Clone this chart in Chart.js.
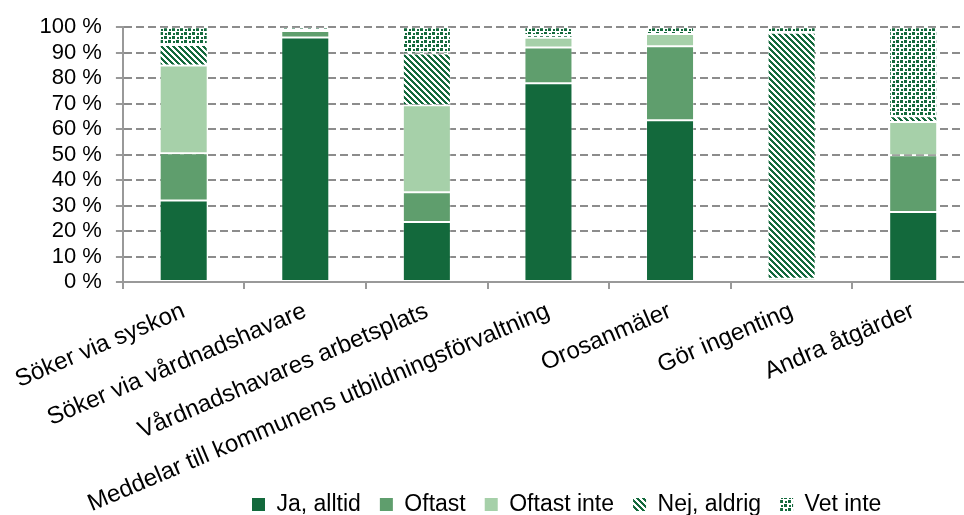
<!DOCTYPE html>
<html><head><meta charset="utf-8">
<script src="https://cdn.jsdelivr.net/npm/chart.js@4/dist/chart.umd.min.js"></script>
<style>
html,body{margin:0;padding:0;overflow:hidden;background:#fff;width:964px;height:515px}
#wrap{width:976px;height:515px}
</style></head>
<body><div id="wrap"><canvas id="c" width="976" height="515"></canvas></div>
<script>
const categories = ["Söker via syskon", "Söker via vårdnadshavare", "Vårdnadshavares arbetsplats",
  "Meddelar till kommunens utbildningsförvaltning", "Orosanmäler", "Gör ingenting", "Andra åtgärder"];
const seriesNames = ["Ja, alltid", "Oftast", "Oftast inte", "Nej, aldrig", "Vet inte"];
const jaAlltid    = [32, 96, 23.5, 78, 63.5, 0, 27.5];
const oftast      = [18.5, 2.5, 11.7, 14, 29, 0, 22.2];
const oftastInte  = [34.5, 0, 34.2, 3.9, 4.8, 1.3, 13.1];
const nejAldrig   = [8, 0.5, 20.3, 1, 0, 96.5, 2.3];
const vetInte     = [7, 1, 10.3, 3.1, 2.7, 2.2, 34.9];
const yTickLabels = ["0 %", "10 %", "20 %", "30 %", "40 %", "50 %", "60 %", "70 %", "80 %", "90 %", "100 %"];

const DARK = '#13693c', MID = '#5f9e6d', LIGHT = '#a6d0a9', PAT = '#13693c';

function stripePattern(color) {
  const n = 6;
  const c = document.createElement('canvas'); c.width = n; c.height = n;
  const x = c.getContext('2d');
  x.fillStyle = '#fff'; x.fillRect(0, 0, n, n);
  x.fillStyle = color;
  for (let i = 0; i < n; i++) for (let k = 0; k < 3; k++) x.fillRect((i + k) % n, i, 1, 1);
  return x.createPattern(c, 'repeat');
}
function confettiPattern(color) {
  const c = document.createElement('canvas'); c.width = 8; c.height = 8;
  const x = c.getContext('2d');
  x.fillStyle = '#fff'; x.fillRect(0, 0, 8, 8);
  x.fillStyle = color;
  [[0,0,3,3],[4,4,3,3],[5,1,2,2],[1,5,2,2]].forEach(([a,b,w,h]) => x.fillRect(a, b, w, h));
  return x.createPattern(c, 'repeat');
}

const fills = [DARK, MID, LIGHT, stripePattern(PAT), confettiPattern(PAT)];
const values = [jaAlltid, oftast, oftastInte, nejAldrig, vetInte];

const layoutTweak = {
  id: 'layoutTweak',
  afterLayout(chart) {
    const lg = chart.legend;
    if (lg && lg.lineWidths) {
      const pad = lg.options.labels.padding;
      const start = (lg.left + pad + lg.right - lg.lineWidths[0]) / 2;
      const dx = 252 - start;
      lg.left += dx; lg.right += dx;
      lg.top += 11; lg.bottom += 11;
    }
    if (chart.scales.x) chart.scales.x.bottom = chart.height;
  }
};

new Chart(document.getElementById('c'), {
  type: 'bar',
  data: {
    labels: categories,
    datasets: seriesNames.map((n, i) => ({
      label: n,
      data: values[i],
      backgroundColor: fills[i],
      borderColor: 'rgba(255,255,255,0.3)',
      borderWidth: 1,
      borderSkipped: false,
      barPercentage: 0.395,
      categoryPercentage: 1
    }))
  },
  options: {
    responsive: false,
    devicePixelRatio: 1,
    animation: false,
    layout: { padding: { top: 26, left: 0, right: 2, bottom: 0 } },
    plugins: {
      tooltip: { enabled: false },
      legend: {
        position: 'bottom',
        labels: {
          color: '#000',
          font: { family: "'Liberation Sans', Arial, sans-serif", size: 23 },
          boxWidth: 13, boxHeight: 13, padding: 19,
          generateLabels(chart) {
            const items = Chart.defaults.plugins.legend.labels.generateLabels(chart);
            items.forEach(it => { it.lineWidth = 0; it.strokeStyle = 'rgba(0,0,0,0)'; });
            return items;
          }
        }
      }
    },
    scales: {
      x: {
        stacked: true,
        afterFit(scale) {
          const lh = scale.chart.legend ? scale.chart.legend.height : 0;
          scale.height = 515 - 282 - lh;
        },
        grid: { offset: true, drawOnChartArea: false, drawTicks: true, tickLength: 7, color: '#999', lineWidth: 2 },
        border: { display: true, color: '#999', width: 2 },
        ticks: {
          autoSkip: false, minRotation: 23, maxRotation: 23, padding: 8, color: '#000',
          font: { family: "'Liberation Sans', Arial, sans-serif", size: 24 }
        }
      },
      y: {
        stacked: true, min: 0, max: 100,
        afterFit(scale) { scale.width = 122; },
        grid: { color: '#8c8c8c', lineWidth: 2, tickLength: 7, tickColor: '#999', tickBorderDash: [], tickWidth: 2 },
        border: { display: true, color: '#999', width: 2, dash: [8, 4] },
        ticks: {
          stepSize: 10, autoSkip: false, padding: 14, color: '#000',
          font: { family: "'Liberation Sans', Arial, sans-serif", size: 22 },
          callback: (v, i) => yTickLabels[i]
        }
      }
    }
  },
  plugins: [layoutTweak]
});
</script>
</body></html>
